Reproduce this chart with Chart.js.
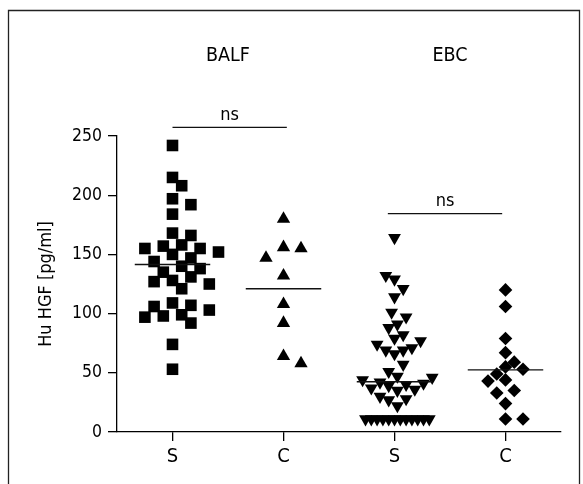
<!DOCTYPE html>
<html><head><meta charset="utf-8">
<script src="https://cdn.jsdelivr.net/npm/chart.js@4/dist/chart.umd.min.js"></script>
<style>html,body{margin:0;padding:0;background:#fff}</style>
</head><body>
<canvas id="c" width="583" height="484" style="display:block;width:583px;height:484px"></canvas>
<script>
// ---- data ----
const groupLabels = ['BALF', 'EBC'];
const groupCenters = [1.5, 3.5];
const categoryLabels = ['S', 'C', 'S', 'C'];
const categoryPositions = [1, 2, 3, 4];
const yTicks = [0, 50, 100, 150, 200, 250];
const yTitle = 'Hu HGF [pg/ml]';

const balfS = [242, 215, 208, 197, 192, 184, 168, 166, 158, 157, 155, 155, 152, 150, 147, 144, 140, 138, 135, 131,
               128, 127, 125, 121, 109, 107, 106, 103, 99, 98, 97, 92, 74, 53];
const balfC = [180, 156, 155, 147, 132, 108, 92, 64, 58];
const ebcS  = [164, 132, 129, 121, 114, 101, 97, 91, 88, 82, 79, 77, 74, 71, 69, 69, 66, 57, 51, 47, 46, 44, 42,
               41, 40, 39, 37, 36, 35, 30, 28, 27, 22, 11, 11, 11, 11, 11, 11, 11, 11, 11, 11, 11, 11];
const ebcC  = [120, 106, 79, 67, 59, 55, 53, 49, 44, 43, 35, 33, 24, 11, 11];
const meanValues = [141.5, 121, 42.5, 52.5];

const nsLabels = ['ns', 'ns'];
const nsFrom = [1.0, 2.94];
const nsTo = [2.03, 3.97];
const nsY = [257.3, 184.4];

// ---- styling ----
const FONT = "'DejaVu Sans Condensed', 'Liberation Sans Narrow', sans-serif";
const INK = '#000';
const MEAN_HALF = 0.34;

const seriesValues = [balfS, balfC, ebcS, ebcC];
const seriesStyle = [
  {pointStyle: 'rect', radius: 8.2, rotation: 0, step: 9.2, W: 11.5, H: 12, tie: 11.5, shape: 'ellipse', desc: true},
  {pointStyle: 'triangle', radius: 7.7, rotation: 0, step: 8.75, W: 15, H: 11, tie: 15, shape: 'box', desc: true},
  {pointStyle: 'triangle', radius: 7.4, rotation: 180, step: 2.9, W: 8.5, H: 13.5, tie: 5.6, shape: 'ellipse', desc: false},
  {pointStyle: 'rectRot', radius: 6.8, rotation: 0, step: 8.75, W: 13, H: 13, tie: 13, shape: 'diamond', desc: true}
];

const pointSets = seriesValues.map((vals, g) => ({
  type: 'scatter',
  data: vals.map(v => ({x: categoryPositions[g], y: v})),
  pointStyle: seriesStyle[g].pointStyle,
  pointRadius: seriesStyle[g].radius,
  pointRotation: seriesStyle[g].rotation,
  pointBackgroundColor: INK,
  pointBorderColor: INK,
  pointBorderWidth: 0,
  showLine: false,
  order: 2
}));

const meanSets = meanValues.map((m, g) => ({
  type: 'scatter',
  data: [{x: categoryPositions[g] - MEAN_HALF, y: m}, {x: categoryPositions[g] + MEAN_HALF, y: m}],
  showLine: true,
  borderColor: '#111',
  borderWidth: 1.4,
  pointRadius: 0,
  order: 0
}));

const bracketSets = nsY.map((y, i) => ({
  type: 'scatter',
  data: [{x: nsFrom[i], y: y}, {x: nsTo[i], y: y}],
  showLine: true,
  borderColor: '#111',
  borderWidth: 1.3,
  pointRadius: 0,
  clip: false,
  order: 0
}));

const textPlugin = {
  id: 'texts',
  afterDraw(chart) {
    const {ctx, scales: {x, y}} = chart;
    ctx.save();
    ctx.fillStyle = INK;
    ctx.textAlign = 'center';
    ctx.textBaseline = 'alphabetic';
    ctx.font = '19.5px ' + FONT;
    groupLabels.forEach((t, i) => ctx.fillText(t, x.getPixelForValue(groupCenters[i]), chart.chartArea.top - 75.5));
    ctx.font = '18px ' + FONT;
    nsLabels.forEach((t, i) => {
      const cx = (x.getPixelForValue(nsFrom[i]) + x.getPixelForValue(nsTo[i])) / 2;
      ctx.fillText(t, cx, y.getPixelForValue(nsY[i]) - 7.5);
    });
    // frame
    ctx.strokeStyle = '#222';
    ctx.lineWidth = 1.3;
    ctx.beginPath();
    ctx.moveTo(8.5, 490); ctx.lineTo(8.5, 10.5); ctx.lineTo(579.5, 10.5); ctx.lineTo(579.5, 490);
    ctx.stroke();
    ctx.restore();
  }
};

const chart = new Chart(document.getElementById('c'), {
  type: 'scatter',
  data: {datasets: [...pointSets, ...meanSets, ...bracketSets]},
  options: {
    responsive: false,
    animation: false,
    devicePixelRatio: 1,
    events: [],
    layout: {padding: {top: 136, right: 22, left: 0, bottom: 0}},
    plugins: {legend: {display: false}, tooltip: {enabled: false}},
    scales: {
      x: {
        type: 'linear', min: 0.5, max: 4.5,
        afterFit(s) { s.height = 52; },
        afterBuildTicks(s) { s.ticks = categoryPositions.map(v => ({value: v})); },
        ticks: {
          callback: (v) => categoryLabels[categoryPositions.indexOf(v)] ?? '',
          font: {family: FONT, size: 20}, color: INK, padding: 4, maxRotation: 0, autoSkip: false
        },
        grid: {drawOnChartArea: false, drawTicks: true, tickLength: 9, color: INK, lineWidth: 1.3},
        border: {display: true, color: INK, width: 1.3}
      },
      y: {
        type: 'linear', min: 0, max: 250,
        afterFit(s) { s.width = 117; },
        afterBuildTicks(s) { s.ticks = yTicks.map(v => ({value: v})); },
        ticks: {font: {family: FONT, size: 17.5}, color: INK, padding: 6},
        grid: {drawOnChartArea: false, drawTicks: true, tickLength: 9, color: INK, lineWidth: 1.3},
        border: {display: true, color: INK, width: 1.3},
        title: {display: true, text: yTitle, font: {family: FONT, size: 18}, color: INK, padding: {top: 36, bottom: 0}}
      }
    }
  },
  plugins: [textPlugin]
});

// beeswarm placement through the chart's own scales
function swarm(vals, center, st, xs, ys) {
  const placed = [];
  const order = vals.map((v, i) => i).sort((a, b) => st.desc ? vals[b] - vals[a] : vals[a] - vals[b]);
  const out = new Array(vals.length);
  const cx = xs.getPixelForValue(center);
  for (const i of order) {
    const py = ys.getPixelForValue(vals[i]);
    let off = 0;
    for (let k = 0; k < 400; k++) {
      const m = k === 0 ? 0 : (k % 2 ? (k + 1) / 2 : -k / 2);
      off = m * st.step;
      const hit = placed.some(p => {
        const dx = Math.abs(p.x - off), dy = Math.abs(p.y - py);
        if (dy < 0.5) return dx < st.tie;
        if (st.shape === 'diamond') return dx / st.W + dy / st.H < 1;
        if (st.shape === 'ellipse') return (dx / st.W) ** 2 + (dy / st.H) ** 2 < 1;
        return dx < st.W && dy < st.H;
      });
      if (!hit) break;
    }
    placed.push({x: off, y: py});
    out[i] = {x: xs.getValueForPixel(cx + off), y: vals[i]};
  }
  return out;
}
seriesValues.forEach((vals, g) => {
  chart.data.datasets[g].data = swarm(vals, categoryPositions[g], seriesStyle[g], chart.scales.x, chart.scales.y);
});
chart.update('none');
</script>
</body></html>
